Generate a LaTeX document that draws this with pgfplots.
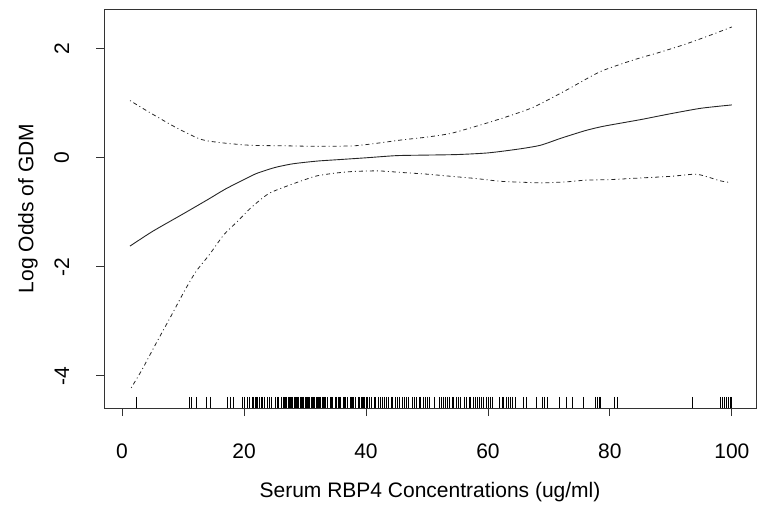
\documentclass[border=0pt]{standalone}
\usepackage{pgfplots}
\pgfplotsset{compat=1.18}
\usepackage{graphicx}
\usepackage{fontspec}
\setmainfont{Liberation Sans}
\newcommand{\lblfont}{\fontsize{21}{25}\selectfont}
\begin{document}
\begin{tikzpicture}
\path (0,0) rectangle (757pt,506pt);
\begin{axis}[
  at={(104pt,98pt)}, anchor=south west,
  scale only axis, width=652pt, height=399pt,
  xmin=-2.96, xmax=103.96, ymin=-4.59, ymax=2.73,
  axis line style={black!80, line width=0.8pt},
  tick style={black!80, line width=0.8pt},
  tick align=outside, major tick length=8pt,
  xtick pos=bottom, ytick pos=left,
  minor tick num=0,
  xtick={0,20,40,60,80,100},
  xticklabels={0,20,40,60,80,100},
  ytick={-4,-2,0,2},
  yticklabels={\rotatebox{90}{-4},\rotatebox{90}{-2},\rotatebox{90}{0},\rotatebox{90}{2}},
  xticklabel style={font=\lblfont, anchor=base, inner sep=0pt, yshift=-42pt},
  yticklabel style={font=\lblfont, anchor=east, inner sep=0pt, xshift=-26.7pt},
  every axis x label/.style={at={(axis description cs:0.5,0)}, anchor=base, yshift=-89pt, inner sep=0pt, font=\lblfont},
  every axis y label/.style={at={(axis description cs:0,0.5)}, xshift=-70.5pt, rotate=90, anchor=base, inner sep=0pt, font=\lblfont},
  xlabel={Serum RBP4 Concentrations (ug/ml)},
  ylabel={Log Odds of GDM},
  clip=false,
]
% fitted curve
\addplot[black!85, line width=0.9pt, smooth, tension=0.4] coordinates {
(1.3,-1.62) (5,-1.35) (10,-1.03) (14,-0.77) (17,-0.57) (20,-0.40) (22,-0.29)
(25,-0.18) (28,-0.11) (32,-0.06) (36,-0.03) (40,0.00) (45,0.04) (50,0.05)
(55,0.06) (60,0.09) (65,0.16) (68.6,0.23) (72,0.36) (76,0.50) (79,0.58)
(85,0.70) (90,0.81) (95,0.91) (100,0.97)};
% upper band
\addplot[black!85, line width=0.8pt, smooth, tension=0.4, dash pattern=on 1pt off 3pt on 4pt off 3pt] coordinates {
(1.3,1.05) (4.7,0.82) (9.1,0.54) (12.9,0.34) (16,0.28) (21,0.23) (27,0.22)
(32,0.21) (38,0.22) (42,0.27) (46,0.33) (50,0.38) (54,0.45) (59,0.61)
(63,0.75) (67.5,0.93) (73,1.25) (78.4,1.58) (84,1.80) (88,1.93) (92,2.07)
(96,2.23) (100,2.40)};
% lower band
\addplot[black!85, line width=0.8pt, smooth, tension=0.4, dash pattern=on 1pt off 3pt on 4pt off 3pt] coordinates {
(1.5,-4.22) (2.8,-3.98) (3.7,-3.80) (5.6,-3.40) (8,-2.91) (10.2,-2.45)
(12.1,-2.09) (14.3,-1.78) (16.7,-1.41) (18.9,-1.17) (21.1,-0.92) (24,-0.66)
(27,-0.52) (30,-0.40) (32,-0.33) (35,-0.28) (38,-0.25) (42,-0.24) (46,-0.27)
(50,-0.30) (54,-0.34) (58,-0.38) (62,-0.43) (66,-0.45) (69,-0.46) (73,-0.44)
(76,-0.41) (80,-0.40) (85,-0.37) (90,-0.34) (94,-0.30) (96,-0.35) (98,-0.42)
(99.5,-0.45)};
% rug
\addplot[black, only marks, mark=|, mark size=5.5pt, mark options={line width=0.8pt}] table[row sep=\\] {
x y \\
2.4 -4.489 \\ 11.0 -4.489 \\ 11.4 -4.489 \\ 12.2 -4.489 \\ 13.9 -4.489 \\ 14.5 -4.489 \\
17.3 -4.489 \\ 17.7 -4.489 \\ 18.3 -4.489 \\ 19.7 -4.489 \\ 20.1 -4.489 \\
20.6 -4.489 \\ 20.9 -4.489 \\ 21.3 -4.489 \\ 21.6 -4.489 \\ 21.8 -4.489 \\ 22.0 -4.489 \\
22.2 -4.489 \\ 22.5 -4.489 \\ 22.8 -4.489 \\ 23.0 -4.489 \\ 23.4 -4.489 \\ 23.9 -4.489 \\
24.2 -4.489 \\ 24.5 -4.489 \\ 25.1 -4.489 \\ 25.4 -4.489 \\ 25.7 -4.489 \\ 26.2 -4.489 \\
26.4 -4.489 \\ 26.6 -4.489 \\ 26.8 -4.489 \\ 27.0 -4.489 \\ 27.2 -4.489 \\ 27.4 -4.489 \\
27.6 -4.489 \\ 27.8 -4.489 \\ 28.0 -4.489 \\ 28.2 -4.489 \\ 28.4 -4.489 \\ 28.6 -4.489 \\
28.8 -4.489 \\ 29.0 -4.489 \\ 29.2 -4.489 \\ 29.4 -4.489 \\ 29.6 -4.489 \\ 29.8 -4.489 \\
30.0 -4.489 \\ 30.2 -4.489 \\ 30.4 -4.489 \\ 30.6 -4.489 \\ 30.8 -4.489 \\ 31.0 -4.489 \\
31.2 -4.489 \\ 31.4 -4.489 \\ 31.6 -4.489 \\ 31.8 -4.489 \\ 32.0 -4.489 \\ 32.2 -4.489 \\
32.4 -4.489 \\ 32.6 -4.489 \\ 32.8 -4.489 \\ 33.0 -4.489 \\ 33.2 -4.489 \\ 33.4 -4.489 \\
33.6 -4.489 \\ 34.1 -4.489 \\ 34.3 -4.489 \\ 34.5 -4.489 \\ 35.0 -4.489 \\ 35.2 -4.489 \\
35.4 -4.489 \\ 35.6 -4.489 \\ 35.8 -4.489 \\ 36.3 -4.489 \\ 36.5 -4.489 \\ 36.7 -4.489 \\
36.9 -4.489 \\ 37.4 -4.489 \\ 37.6 -4.489 \\ 37.8 -4.489 \\ 38.0 -4.489 \\ 38.2 -4.489 \\
38.8 -4.489 \\ 39.0 -4.489 \\ 39.2 -4.489 \\ 39.4 -4.489 \\ 39.6 -4.489 \\ 39.8 -4.489 \\
40.0 -4.489 \\ 40.2 -4.489 \\
40.6 -4.489 \\ 40.9 -4.489 \\ 41.3 -4.489 \\ 41.6 -4.489 \\ 42.0 -4.489 \\ 42.3 -4.489 \\
42.7 -4.489 \\ 43.0 -4.489 \\ 43.4 -4.489 \\ 43.7 -4.489 \\ 44.1 -4.489 \\ 44.4 -4.489 \\
44.8 -4.489 \\ 45.1 -4.489 \\ 45.4 -4.489 \\ 46.0 -4.489 \\ 46.3 -4.489 \\ 46.6 -4.489 \\
47.0 -4.489 \\ 47.6 -4.489 \\ 48.0 -4.489 \\ 48.3 -4.489 \\ 48.7 -4.489 \\ 49.0 -4.489 \\
49.4 -4.489 \\ 49.7 -4.489 \\ 50.1 -4.489 \\ 50.4 -4.489 \\ 51.2 -4.489 \\ 52.0 -4.489 \\
52.3 -4.489 \\ 52.7 -4.489 \\ 53.0 -4.489 \\ 53.4 -4.489 \\ 53.7 -4.489 \\ 54.1 -4.489 \\
54.4 -4.489 \\ 54.8 -4.489 \\ 55.1 -4.489 \\ 55.5 -4.489 \\ 56.2 -4.489 \\ 56.5 -4.489 \\
56.9 -4.489 \\ 57.2 -4.489 \\ 57.6 -4.489 \\ 57.9 -4.489 \\ 58.3 -4.489 \\ 58.6 -4.489 \\
59.0 -4.489 \\ 59.3 -4.489 \\ 59.7 -4.489 \\ 60.0 -4.489 \\ 60.4 -4.489 \\ 60.7 -4.489 \\
61.8 -4.489 \\ 62.3 -4.489 \\ 62.6 -4.489 \\ 63.0 -4.489 \\ 63.4 -4.489 \\ 63.7 -4.489 \\
64.0 -4.489 \\ 64.5 -4.489 \\ 65.8 -4.489 \\ 66.3 -4.489 \\ 67.9 -4.489 \\ 69.0 -4.489 \\
69.3 -4.489 \\ 69.7 -4.489 \\ 71.8 -4.489 \\ 72.8 -4.489 \\ 73.8 -4.489 \\ 75.7 -4.489 \\
77.7 -4.489 \\ 78.0 -4.489 \\ 78.2 -4.489 \\ 78.5 -4.489 \\ 80.7 -4.489 \\ 81.2 -4.489 \\
93.6 -4.489 \\ 98.1 -4.489 \\ 98.4 -4.489 \\ 98.8 -4.489 \\ 99.1 -4.489 \\ 99.4 -4.489 \\
99.7 -4.489 \\ 100.0 -4.489 \\
};
\end{axis}
\end{tikzpicture}
\end{document}
